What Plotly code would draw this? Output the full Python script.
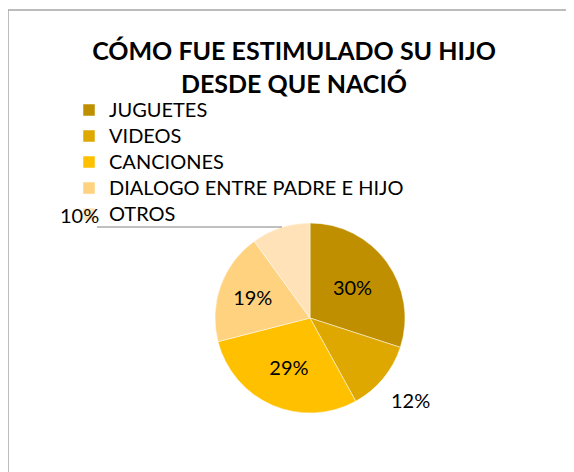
import plotly.graph_objects as go

categories = ["JUGUETES", "VIDEOS", "CANCIONES", "DIALOGO ENTRE PADRE E HIJO", "OTROS"]
values = [30, 12, 29, 19, 10]
colors = ["#BF8F00", "#DEA800", "#FFC000", "#FFD27F", "#FFE2B8"]
# slices whose labels Excel put outside the pie
outside = ["VIDEOS", "OTROS"]

W, H = 574, 472
OFF = 8  # page body margin around the plot div


def px(x):
    return (x - OFF) / W


def py(y):
    return 1 - (y - OFF) / H


cx, cy, r = 310, 318, 95

texts = ["" if c in outside else f"{v}%" for c, v in zip(categories, values)]
# larger legend text than the legend row height would normally allow
names = [f"<span style='font-size:20px'>{c}</span>" for c in categories]

fig = go.Figure(go.Pie(
    labels=names,
    values=values,
    text=texts,
    textinfo="text",
    textposition="inside",
    insidetextorientation="horizontal",
    sort=False,
    direction="clockwise",
    rotation=0,
    marker=dict(colors=colors, line=dict(color="white", width=0.5)),
    textfont=dict(family="Lato", size=20, color="black"),
    domain=dict(x=[px(cx - r), px(cx + r)], y=[py(cy + r), py(cy - r)]),
))

lbl = dict(VIDEOS=(410, 400), OTROS=(79, 215))
for c, v in zip(categories, values):
    if c in lbl:
        x, y = lbl[c]
        fig.add_annotation(x=px(x), y=py(y), xref="paper", yref="paper",
                           xanchor="center", yanchor="middle",
                           text=f"{v}%", showarrow=False,
                           font=dict(family="Lato", size=20, color="black"))

fig.update_layout(
    width=W, height=H,
    margin=dict(l=0, r=0, t=0, b=0),
    paper_bgcolor="white",
    font=dict(family="Lato", color="black"),
    title=dict(text="<b>CÓMO FUE ESTIMULADO SU HIJO<br>DESDE QUE NACIÓ</b>",
               x=px(294), xanchor="center", y=py(60), yanchor="top",
               font=dict(family="Lato", size=25, color="black")),
    legend=dict(x=px(69), xanchor="left", y=py(92), yanchor="top",
                font=dict(family="Lato", size=17.7, color="black"),
                tracegroupgap=0, itemwidth=30, bgcolor="rgba(0,0,0,0)"),
    shapes=[
        dict(type="line", xref="paper", yref="paper", x0=px(8), x1=1, y0=py(10), y1=py(10),
             line=dict(color="#A6A6A6", width=1.5)),
        dict(type="line", xref="paper", yref="paper", x0=px(8), x1=px(8), y0=0, y1=py(10),
             line=dict(color="#A6A6A6", width=1.5)),
        dict(type="line", xref="paper", yref="paper", x0=px(97), x1=px(282), y0=py(227), y1=py(227),
             line=dict(color="#808080", width=1)),
    ],
)

fig.write_html("out.html")
